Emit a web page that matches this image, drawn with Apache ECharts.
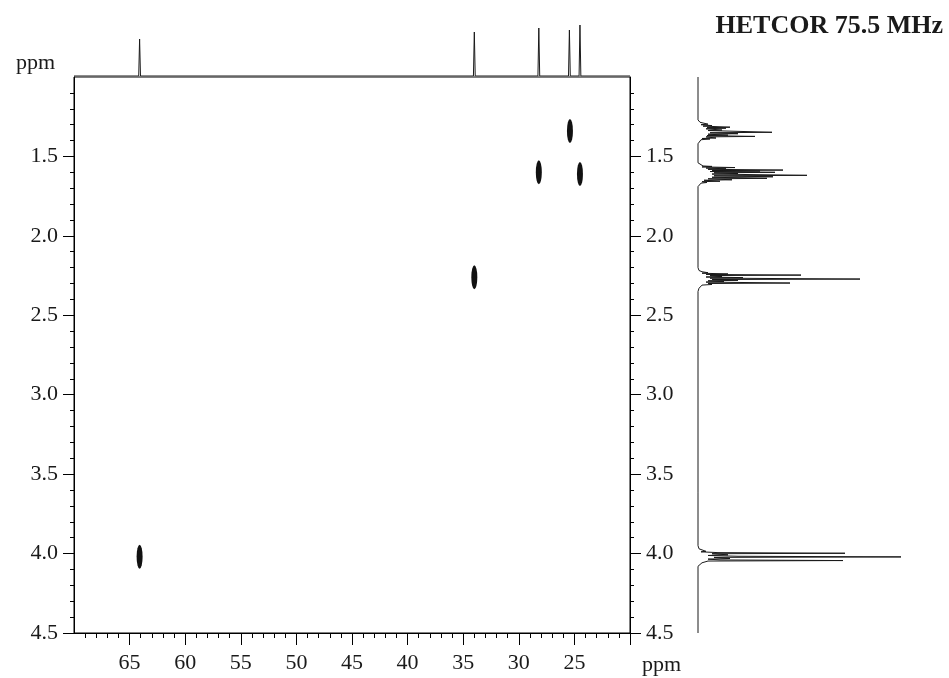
<!DOCTYPE html>
<html>
<head>
<meta charset="utf-8">
<title>HETCOR 75.5 MHz</title>
<script src="https://cdn.jsdelivr.net/npm/echarts@6/dist/echarts.min.js"></script>
<style>
    html, body { margin: 0; padding: 0; background: #fff; }
    #chart { width: 949px; height: 678px; }
</style>
</head>
<body>
<div id="chart"></div>
<script>
// 13C shifts (ppm) and heights of the top 1D trace
const carbonShifts = [64.1, 34.0, 28.2, 25.45, 24.5];
const carbonHeights = [37, 44, 48, 46, 51];

// HETCOR cross peaks: 13C ppm / 1H ppm
const crossCarbon = [64.1, 34.0, 28.2, 25.4, 24.5];
const crossProton = [4.02, 2.26, 1.60, 1.34, 1.61];

// 1H trace on the right: [ppm, intensity]
const protonTrace = [
    [1.00, 0], [1.27, 0], [1.285, 2], [1.292, 4],
    [1.297, 10], [1.300, 3], [1.306, 14], [1.309, 5], [1.316, 32], [1.319, 9], [1.322, 28], [1.326, 8],
    [1.334, 24], [1.337, 10], [1.348, 74], [1.351, 12], [1.357, 40], [1.360, 10], [1.366, 30], [1.369, 9],
    [1.374, 57], [1.377, 8], [1.384, 18], [1.387, 4], [1.390, 12], [1.395, 3], [1.405, 1], [1.42, 0],
    [1.54, 0], [1.552, 2], [1.560, 5], [1.563, 14], [1.566, 4], [1.570, 37], [1.573, 8], [1.578, 28],
    [1.581, 10], [1.586, 85], [1.589, 14], [1.592, 62], [1.595, 12], [1.600, 77], [1.603, 16], [1.608, 40],
    [1.611, 14], [1.619, 109], [1.622, 16], [1.628, 75], [1.631, 14], [1.638, 69], [1.641, 10], [1.647, 34],
    [1.650, 6], [1.656, 22], [1.659, 4], [1.664, 9], [1.668, 3], [1.675, 1], [1.69, 0],
    [2.20, 0], [2.218, 1], [2.226, 4], [2.232, 10], [2.235, 4], [2.240, 30], [2.243, 8], [2.247, 103],
    [2.250, 12], [2.256, 24], [2.259, 8], [2.263, 45], [2.266, 12], [2.272, 162], [2.275, 14], [2.280, 40],
    [2.283, 10], [2.288, 26], [2.291, 8], [2.297, 92], [2.300, 10], [2.306, 14], [2.310, 4], [2.318, 2],
    [2.33, 1], [2.35, 0],
    [3.60, 0], [3.612, 2], [3.618, 0],
    [3.95, 0], [3.970, 1], [3.980, 3], [3.986, 8], [3.989, 3], [3.994, 20], [3.998, 147], [4.001, 14],
    [4.008, 30], [4.012, 10], [4.017, 40], [4.021, 203], [4.024, 16], [4.031, 32], [4.035, 10], [4.040, 22],
    [4.044, 145], [4.047, 10], [4.053, 12], [4.058, 4], [4.065, 2], [4.08, 0], [4.50, 0]
];

// tick labels
const carbonTicks = [65, 60, 55, 50, 45, 40, 35, 30, 25];
const protonTicks = [1.5, 2.0, 2.5, 3.0, 3.5, 4.0, 4.5];

const FONT = 'Liberation Serif';
const INK = '#1a1a1a';

// stick trace for the 13C projection: baseline, peak, baseline
const carbonTrace = [[70, 0]];
carbonShifts.forEach((p, i) => {
    carbonTrace.push([p + 0.08, 0], [p, carbonHeights[i]], [p - 0.08, 0]);
});
carbonTrace.push([20, 0]);

const protonAxis = (position) => ({
    type: 'value', gridIndex: 0, position, min: 1.0, max: 4.5, interval: 0.5, inverse: true,
    axisLine: { show: true, lineStyle: { color: '#000', width: 1 } },
    axisTick: { show: true, length: 11, customValues: protonTicks, lineStyle: { color: '#000' } },
    minorTick: { show: true, splitNumber: 5, length: 4, lineStyle: { color: '#000' } },
    splitLine: { show: false },
    axisLabel: {
        customValues: protonTicks, margin: 16, color: INK, fontFamily: FONT, fontSize: 22,
        formatter: v => v.toFixed(1)
    }
});

const chart = echarts.init(document.getElementById('chart'));
chart.setOption({
    animation: false,
    backgroundColor: '#fff',
    title: {
        text: 'HETCOR 75.5 MHz', right: 6, top: 13, padding: 0,
        textStyle: { fontFamily: FONT, fontSize: 26, fontWeight: 'bold', color: INK }
    },
    grid: [
        { left: 74, top: 77, width: 556, height: 556, show: true, borderColor: '#000', borderWidth: 1 },
        { left: 74, top: 16, width: 556, height: 60 },
        { left: 698, top: 77, width: 220, height: 556 }
    ],
    xAxis: [
        {
            type: 'value', gridIndex: 0, min: 20, max: 70, interval: 5, inverse: true, position: 'bottom',
            axisLine: { show: true, onZero: false, lineStyle: { color: '#000', width: 1 } },
            axisTick: { show: true, length: 12, customValues: [65, 60, 55, 50, 45, 40, 35, 30, 25, 20], lineStyle: { color: '#000' } },
            minorTick: { show: true, splitNumber: 5, length: 5, lineStyle: { color: '#000' } },
            splitLine: { show: false },
            axisLabel: { customValues: carbonTicks, margin: 19, color: INK, fontFamily: FONT, fontSize: 22 }
        },
        { type: 'value', gridIndex: 1, min: 20, max: 70, inverse: true, show: false },
        { type: 'value', gridIndex: 2, min: 0, max: 220, show: false }
    ],
    yAxis: [
        protonAxis('left'),
        protonAxis('right'),
        { type: 'value', gridIndex: 1, min: 0, max: 60, show: false },
        { type: 'value', gridIndex: 2, min: 1.0, max: 4.5, inverse: true, show: false }
    ],
    graphic: [
        { type: 'text', left: 16, top: 52, style: { text: 'ppm', fontFamily: FONT, fontSize: 22, fill: INK } },
        { type: 'text', left: 642, top: 654, style: { text: 'ppm', fontFamily: FONT, fontSize: 22, fill: INK } }
    ],
    series: [
        {
            type: 'scatter', xAxisIndex: 0, yAxisIndex: 0, symbol: 'circle', symbolSize: [6, 24],
            itemStyle: { color: '#111', opacity: 1 },
            data: crossCarbon.map((c, i) => [c, crossProton[i]])
        },
        {
            type: 'line', xAxisIndex: 1, yAxisIndex: 2, showSymbol: false, symbol: 'none',
            lineStyle: { color: INK, width: 1 }, data: carbonTrace
        },
        {
            type: 'line', xAxisIndex: 2, yAxisIndex: 3, showSymbol: false, symbol: 'none',
            lineStyle: { color: INK, width: 1 }, data: protonTrace.map(([p, v]) => [v, p])
        }
    ]
});
</script>
</body>
</html>
